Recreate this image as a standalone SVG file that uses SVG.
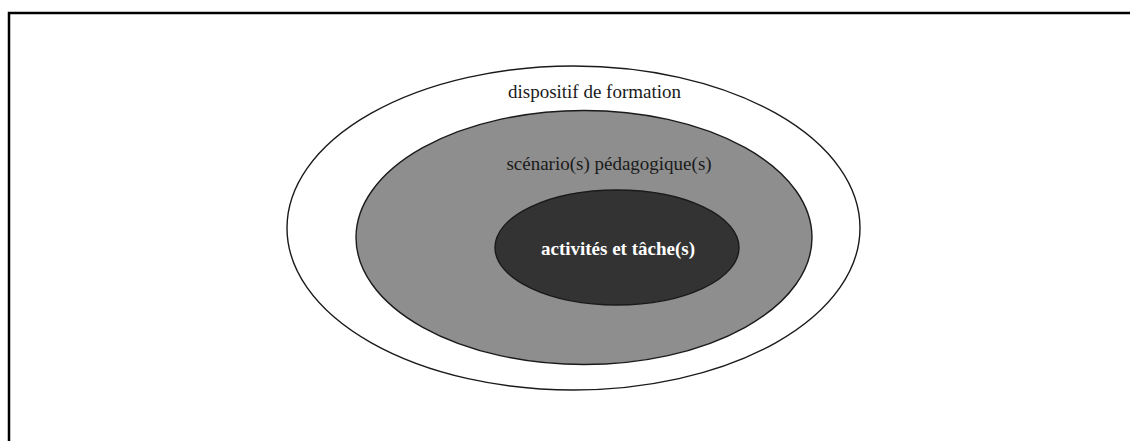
<svg xmlns="http://www.w3.org/2000/svg" width="1130" height="441" viewBox="0 0 1130 441">
  <style>
    .ring { stroke: #1a1a1a; stroke-width: 1.4; }
    .lbl { font-family: "Liberation Serif", "Times New Roman", serif; font-size: 19px; text-anchor: middle; }
  </style>
  <rect x="0" y="0" width="1130" height="441" fill="#ffffff"/>
  <path d="M9,441 V13 H1130" fill="none" stroke="#000000" stroke-width="2.5"/>
  <g id="dispositif">
    <ellipse class="ring" cx="573.5" cy="228" rx="286.5" ry="162" fill="#ffffff"/>
    <text class="lbl" x="594.5" y="98" fill="#1a1a1a">dispositif de formation</text>
  </g>
  <g id="scenario">
    <ellipse class="ring" cx="584" cy="237.5" rx="228" ry="127" fill="#8e8e8e"/>
    <text class="lbl" x="609" y="170" fill="#1a1a1a">scénario(s) pédagogique(s)</text>
  </g>
  <g id="activites">
    <ellipse class="ring" cx="617" cy="247.5" rx="122" ry="57.5" fill="#333333"/>
    <text class="lbl" x="618" y="255" fill="#ffffff" font-weight="bold" font-size="18.5px">activités et tâche(s)</text>
  </g>
  <g id="connectors"/>
</svg>
